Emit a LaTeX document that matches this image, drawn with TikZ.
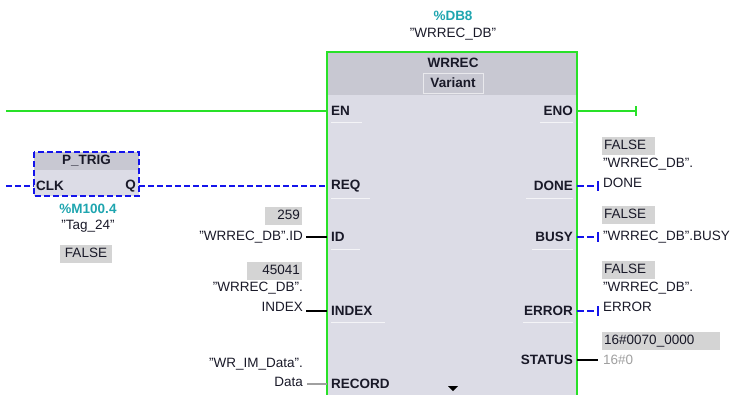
\documentclass[tikz,border=0pt]{standalone}
\usepackage{fontspec}
\setmainfont{Liberation Sans}
\definecolor{plcgreen}{RGB}{40,225,40}
\definecolor{plcblue}{RGB}{20,20,235}
\definecolor{teal}{RGB}{30,165,175}
\definecolor{hdr}{RGB}{200,200,210}
\definecolor{bodyc}{RGB}{220,220,230}
\definecolor{valbg}{RGB}{212,212,212}
\definecolor{txt}{RGB}{25,25,40}
\definecolor{gtxt}{RGB}{160,160,160}
\tikzset{
  x=1pt,y=-1pt,
  base/.style={font=\fontsize{13.5}{15}\selectfont, text=txt, inner sep=0pt},
  pinlbl/.style={base, font=\fontsize{13.5}{15}\selectfont\bfseries},
  valbox/.style={base, fill=valbg, inner xsep=2pt, inner ysep=2.5pt, text height=10pt, text depth=3pt},
  greenw/.style={draw=plcgreen, line width=2.4pt},
  bluew/.style={draw=plcblue, line width=2pt, dash pattern=on 6pt off 3pt},
  blackw/.style={draw=black, line width=2pt},
  greyw/.style={draw=gtxt, line width=1.6pt},
  sep/.style={draw=white, draw opacity=0.7, line width=1pt},
  endtick/.style={line width=1.6pt},
}
\begin{document}
\begin{tikzpicture}
\useasboundingbox (0,0) rectangle (730,394);
\begin{scope}
\clip (0,0) rectangle (730,394);
% main block
\fill[bodyc] (327,52) rectangle (577,400);
\fill[hdr] (327,52) rectangle (577,95);
\node[pinlbl] (title) at (453,63) {WRREC};
\node[pinlbl, draw=white!60!hdr, line width=0.8pt, minimum width=60, minimum height=20] (variant) at (453,83) {Variant};
\draw[greenw] (327,400) -- (327,52) -- (577,52) -- (577,400);
\fill[black] (448,386) -- (458,386) -- (453,391) -- cycle;
\end{scope}
% DB labels
\node[pinlbl, text=teal] (db) at (453,16) {\%DB8};
\node[base] (dbname) at (453,34) {"WRREC\_DB"};
% block pins
\coordinate (inEN) at (327,111);
\coordinate (inREQ) at (327,186);
\coordinate (inID) at (327,237);
\coordinate (inINDEX) at (327,311);
\coordinate (inREC) at (327,384);
\coordinate (outENO) at (577,111);
\coordinate (outDONE) at (577,186);
\coordinate (outBUSY) at (577,237);
\coordinate (outERR) at (577,311);
\coordinate (outSTAT) at (577,360);
\node[pinlbl, anchor=west] (pEN) at (331,111) {EN};
\node[pinlbl, anchor=west] (pREQ) at (331,186) {REQ};
\node[pinlbl, anchor=west] (pID) at (331,237) {ID};
\node[pinlbl, anchor=west] (pINDEX) at (331,311) {INDEX};
\node[pinlbl, anchor=west] (pREC) at (331,384) {RECORD};
\node[pinlbl, anchor=east] (pENO) at (573,111) {ENO};
\node[pinlbl, anchor=east] (pDONE) at (573,186) {DONE};
\node[pinlbl, anchor=east] (pBUSY) at (573,237) {BUSY};
\node[pinlbl, anchor=east] (pERR) at (573,311) {ERROR};
\node[pinlbl, anchor=east] (pSTAT) at (573,360) {STATUS};
% separators under pin labels
\draw[sep] (331,122) -- (362,122);
\draw[sep] (331,198) -- (370,198);
\draw[sep] (331,249) -- (360,249);
\draw[sep] (331,322) -- (385,322);
\draw[sep] (540,122) -- (573,122);
\draw[sep] (526,198) -- (573,198);
\draw[sep] (532,249) -- (573,249);
\draw[sep] (523,322) -- (573,322);
% EN / ENO rail
\coordinate (railL) at (6,111);
\coordinate (enoEnd) at (636,111);
\draw[greenw] (railL) -- (inEN);
\draw[greenw] (outENO) -- (enoEnd);
\draw[plcgreen, endtick] (636,106) -- (636,116);
% P_TRIG
\fill[bodyc] (34,152) rectangle (139,196);
\fill[hdr] (34,152) rectangle (139,170);
\node[pinlbl] (ptrig) at (86.5,161) {P\_TRIG};
\node[pinlbl, anchor=west] (clk) at (36,186) {CLK};
\node[pinlbl, anchor=east] (q) at (136,186) {Q};
\draw[bluew] (34,152) rectangle (139,196);
\coordinate (clkIn) at (34,186);
\coordinate (qOut) at (139,186);
\coordinate (railL2) at (6,186);
\draw[bluew] (railL2) -- (clkIn);
\draw[bluew] (qOut) -- (inREQ);
\node[pinlbl, text=teal] (m100) at (88,209) {\%M100.4};
\node[base] (tag24) at (88,226) {"Tag\_24"};
\node[valbox, minimum width=52] (fTag) at (86,254) {FALSE};
% ID
\node[valbox, anchor=east, align=right, text width=33] (v259) at (302,216) {259};
\node[base, anchor=east] (idName) at (303,237) {"WRREC\_DB".ID};
\coordinate (idL) at (306,237);
\draw[blackw] (idL) -- (inID);
% INDEX
\node[valbox, anchor=east, align=right, text width=51] (v45041) at (302,271) {45041};
\node[base, anchor=east] (idxName1) at (303,288) {"WRREC\_DB".};
\node[base, anchor=east] (idxName2) at (303,307) {INDEX};
\coordinate (idxL) at (306,311);
\draw[blackw] (idxL) -- (inINDEX);
% RECORD
\node[base, anchor=east] (recName1) at (303,364) {"WR\_IM\_Data".};
\node[base, anchor=east] (recName2) at (303,382) {Data};
\coordinate (recL) at (307,384);
\draw[greyw] (recL) -- (inREC);
% DONE
\coordinate (doneEnd) at (598,186);
\draw[bluew, dash pattern=on 7pt off 3pt] (outDONE) -- (doneEnd);
\draw[plcblue, endtick] (598,181) -- (598,191);
\node[valbox, anchor=west, text width=49, align=left] (fDone) at (602,146) {FALSE};
\node[base, anchor=west] (doneName1) at (603,164) {"WRREC\_DB".};
\node[base, anchor=west] (doneName2) at (603,183) {DONE};
% BUSY
\coordinate (busyEnd) at (598,237);
\draw[bluew, dash pattern=on 7pt off 3pt] (outBUSY) -- (busyEnd);
\draw[plcblue, endtick] (598,232) -- (598,242);
\node[valbox, anchor=west, text width=49, align=left] (fBusy) at (602,215) {FALSE};
\node[base, anchor=west] (busyName) at (603,237) {"WRREC\_DB".BUSY};
% ERROR
\coordinate (errEnd) at (598,311);
\draw[bluew, dash pattern=on 7pt off 3pt] (outERR) -- (errEnd);
\draw[plcblue, endtick] (598,306) -- (598,316);
\node[valbox, anchor=west, text width=49, align=left] (fErr) at (602,270) {FALSE};
\node[base, anchor=west] (errName1) at (603,288) {"WRREC\_DB".};
\node[base, anchor=west] (errName2) at (603,307) {ERROR};
% STATUS
\coordinate (statEnd) at (598,360);
\draw[blackw] (outSTAT) -- (statEnd);
\node[valbox, anchor=west, text width=114, align=left] (vStat) at (602,341) {16\#0070\_0000};
\node[base, anchor=west, text=gtxt] (statName) at (603,360) {16\#0};
\end{tikzpicture}
\end{document}
